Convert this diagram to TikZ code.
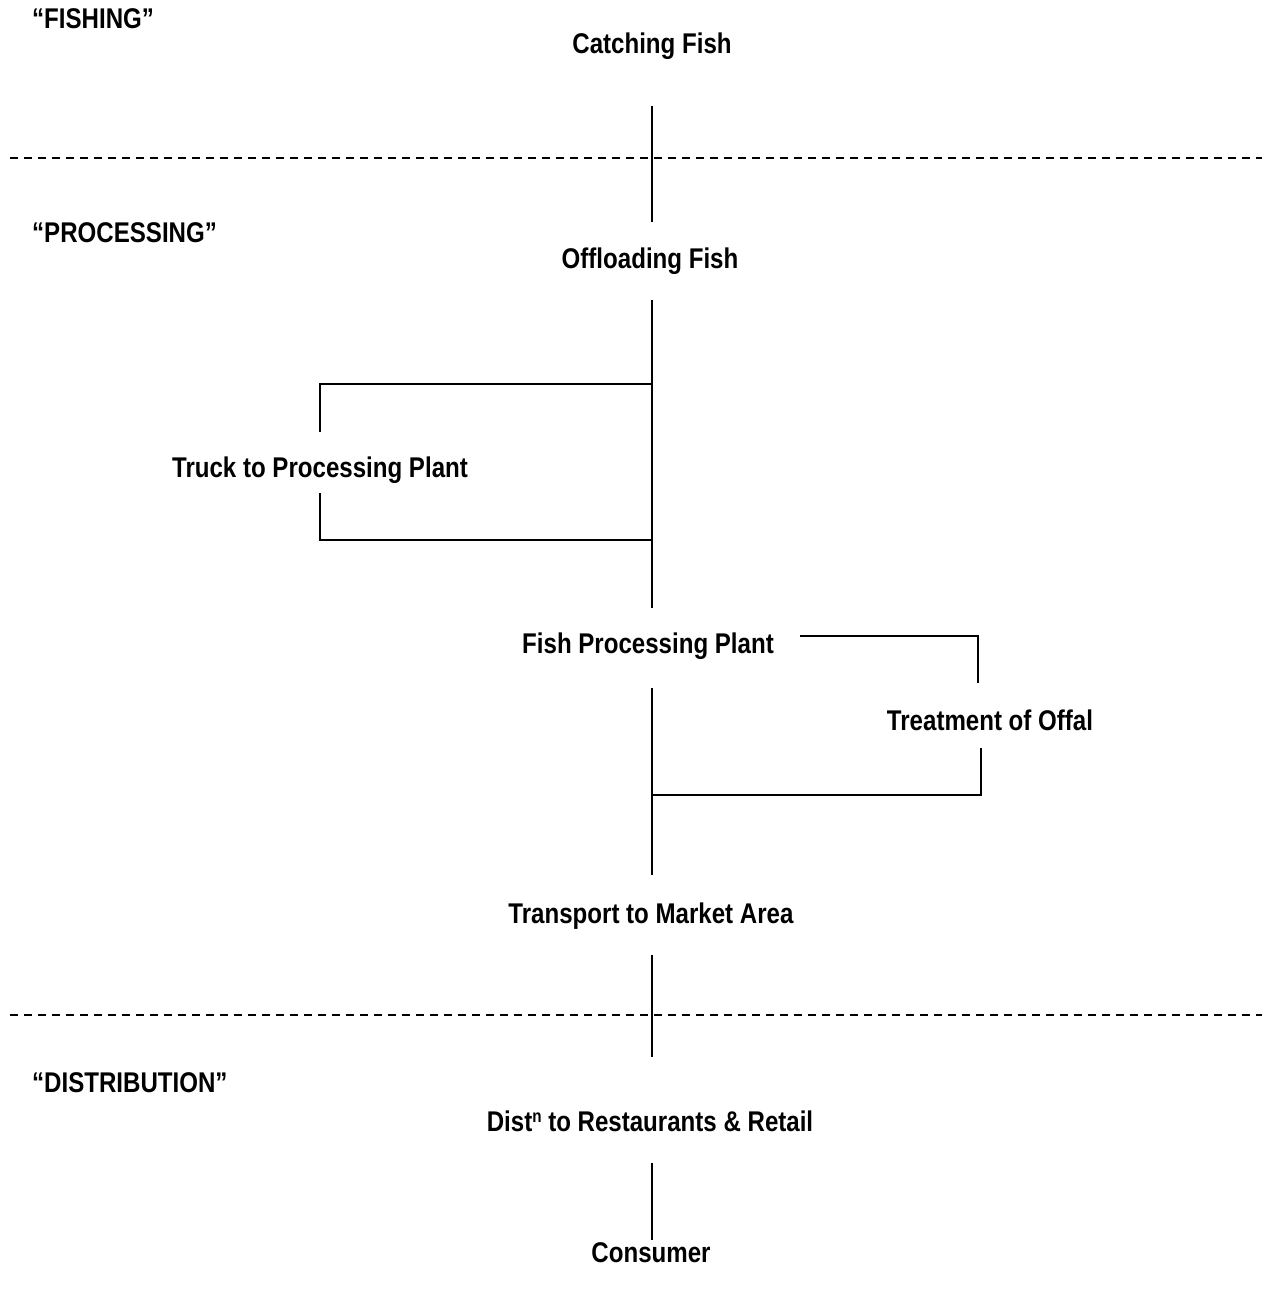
\documentclass[tikz,border=0pt]{standalone}
\usepackage{fontspec}
\newfontfamily\nb{Liberation Sans Bold}[FakeStretch=0.845]
\begin{document}
\begin{tikzpicture}[x=1pt,y=-1pt,
  lbl/.style={inner sep=0pt, anchor=base, font=\nb\fontsize{28.5}{30}\selectfont},
  stage/.style={inner sep=0pt, anchor=base west, font=\nb\fontsize{28.5}{30}\selectfont},
  conn/.style={line width=1.6pt, line cap=butt},
  sep/.style={line width=1.3pt, dash pattern=on 8pt off 6pt}]
\useasboundingbox[fill=white] (0,0) rectangle (1264,1291);
% stage labels
\node[stage] (fishing) at (32,28) {“FISHING”};
\node[stage] (processing) at (32,242) {“PROCESSING”};
\node[stage] (distribution) at (32,1092) {“DISTRIBUTION”};
% steps
\node[lbl] (catch) at (652,53) {Catching Fish};
\node[lbl] (offload) at (650,268) {Offloading Fish};
\node[lbl] (truck) at (320,477) {Truck to Processing Plant};
\node[lbl] (plant) at (648,653) {Fish Processing Plant};
\node[lbl] (offal) at (990,730) {Treatment of Offal};
\node[lbl] (transport) at (651,923) {Transport to Market Area};
\node[lbl] (dist) at (650,1131) {Dist\raisebox{0.3em}{\fontsize{18}{18}\selectfont n} to Restaurants \& Retail};
\node[lbl] (consumer) at (651,1262) {Consumer};
% connector end points
\coordinate (c1a) at (652,106); \coordinate (c1b) at (652,222);
\coordinate (c2a) at (652,300); \coordinate (c2b) at (652,608);
\coordinate (t1) at (651,384); \coordinate (t2) at (320,384); \coordinate (t3) at (320,432);
\coordinate (t4) at (320,493); \coordinate (t5) at (320,540); \coordinate (t6) at (651,540);
\coordinate (o1) at (800,636); \coordinate (o2) at (978,636); \coordinate (o3) at (978,683);
\coordinate (o4) at (981,748); \coordinate (o5) at (981,795); \coordinate (o6) at (652,795);
\coordinate (c3a) at (652,688); \coordinate (c3b) at (652,875);
\coordinate (c4a) at (652,955); \coordinate (c4b) at (652,1057);
\coordinate (c5a) at (652,1163); \coordinate (c5b) at (652,1240);
\coordinate (d1a) at (10,158); \coordinate (d1b) at (1262,158);
\coordinate (d2a) at (10,1015); \coordinate (d2b) at (1262,1015);
% dashed separators
\draw[sep] (d1a) -- (d1b);
\draw[sep] (d2a) -- (d2b);
% connectors
\draw[conn] (c1a) -- (c1b);
\draw[conn] (c2a) -- (c2b);
\draw[conn] (t1) -- (t2) -- (t3);
\draw[conn] (t4) -- (t5) -- (t6);
\draw[conn] (o1) -- (o2) -- (o3);
\draw[conn] (o4) -- (o5) -- (o6);
\draw[conn] (c3a) -- (c3b);
\draw[conn] (c4a) -- (c4b);
\draw[conn] (c5a) -- (c5b);
\end{tikzpicture}
\end{document}
